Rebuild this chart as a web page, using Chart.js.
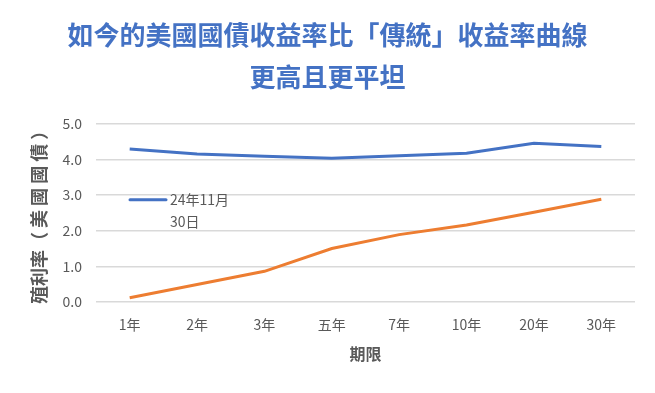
<!DOCTYPE html>
<html>
<head>
<meta charset="utf-8">
<script src="https://cdn.jsdelivr.net/npm/chart.js@4"></script>
<style>
  body { margin: 0; background: #fff; }
  canvas { display: block; }
</style>
</head>
<body>
<canvas id="grafico" width="655" height="393"></canvas>
<script>
const terms = ["1年", "2年", "3年", "五年", "7年", "10年", "20年", "30年"];
const yields2024 = [4.29, 4.15, 4.09, 4.03, 4.10, 4.17, 4.45, 4.36];
const yieldsTraditional = [0.12, 0.49, 0.86, 1.50, 1.89, 2.16, 2.52, 2.88];
const yTicks = [0, 1, 2, 3, 4, 5];
const titleLines = ["如今的美國國債收益率比「傳統」收益率曲線", "更高且更平坦"];
const legendLines = ["24年11月", "30日"];

const FONT = "'Noto Sans CJK TC', 'Noto Sans', sans-serif";
const GRAY = "#595959";

// legend sits inside the plot, only for the blue series
const innerLegend = {
  id: "innerLegend",
  afterDraw(chart) {
    const ctx = chart.ctx;
    const a = chart.chartArea;
    const x = a.left + 34, y = a.top + 76;
    ctx.save();
    ctx.strokeStyle = "#4472C4";
    ctx.lineWidth = 3;
    ctx.lineCap = "round";
    ctx.beginPath();
    ctx.moveTo(x, y);
    ctx.lineTo(x + 36, y);
    ctx.stroke();
    ctx.fillStyle = GRAY;
    ctx.font = "14px " + FONT;
    ctx.textBaseline = "middle";
    legendLines.forEach((t, i) => ctx.fillText(t, x + 40, y + i * 22));
    ctx.restore();
  }
};

const ctx = document.getElementById("grafico").getContext("2d");
new Chart(ctx, {
  type: "line",
  data: {
    labels: terms,
    datasets: [{
      label: legendLines.join(""),
      data: yields2024,
      borderColor: "#4472C4",
      borderWidth: 3,
      pointRadius: 0,
      tension: 0,
    }, {
      label: "傳統",
      data: yieldsTraditional,
      borderColor: "#ED7D31",
      borderWidth: 3,
      pointRadius: 0,
      tension: 0,
    }],
  },
  options: {
    responsive: false,
    animation: false,
    layout: { padding: { left: 20, right: 20, top: 0, bottom: 25 } },
    plugins: {
      legend: { display: false },
      tooltip: { enabled: false },
      title: {
        display: true,
        text: titleLines,
        color: "#4472C4",
        font: { family: FONT, size: 26, weight: "bold", lineHeight: 1.63 },
        padding: { top: 14, bottom: 25 },
      },
    },
    scales: {
      x: {
        offset: true,
        grid: { display: false },
        border: { display: false },
        ticks: { color: GRAY, font: { family: FONT, size: 14 }, padding: 6 },
        title: { display: true, text: "期限", color: GRAY, font: { family: FONT, size: 16, weight: "bold" }, padding: { top: 6 } },
      },
      y: {
        min: 0,
        max: 5,
        afterBuildTicks: (s) => { s.ticks = yTicks.map((v) => ({ value: v })); },
        afterFit: (s) => { s.width = 76; },
        grid: { color: "#d9d9d9", lineWidth: 1.5, drawTicks: false },
        border: { display: false },
        ticks: { color: GRAY, font: { family: FONT, size: 14 }, padding: 14, callback: (v) => v.toFixed(1) },
        title: { display: true, text: "殖利率（ 美 國 國 債 ）", color: GRAY, font: { family: FONT, size: 18, weight: "bold" }, padding: { top: 8, bottom: 0 } },
      },
    },
  },
  plugins: [innerLegend],
});
</script>
</body>
</html>
